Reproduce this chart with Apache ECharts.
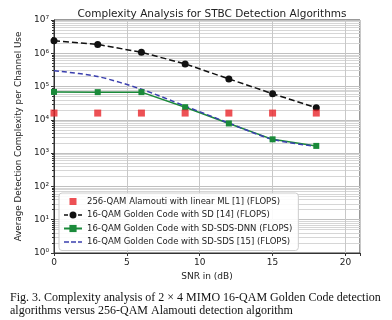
<!DOCTYPE html>
<html>
<head>
<meta charset="utf-8">
<script src="https://cdn.jsdelivr.net/npm/echarts@6/dist/echarts.min.js"></script>
<style>
  html, body { margin: 0; padding: 0; background: #fff; }
  #chart { width: 392px; height: 320px; }
</style>
</head>
<body>
<div id="chart"></div>
<script>
// SNR points (dB)
const snr = [0, 3, 6, 9, 12, 15, 18]

// complexity values
const alamoutiML = [1.6e4, 1.6e4, 1.6e4, 1.6e4, 1.6e4, 1.6e4, 1.6e4]
const goldenSD = [2.4e6, 1.85e6, 1.07e6, 4.8e5, 1.7e5, 6.1e4, 2.3e4]
const goldenDNN = [6.9e4, 6.8e4, 6.8e4, 2.4e4, 7.8e3, 2.6e3, 1.65e3]
const goldenSDS = [3.0e5, 2.0e5, 8.3e4, 2.6e4, 8.0e3, 2.6e3, 1.6e3]

const seriesNames = [
  '256-QAM Alamouti with linear ML [1] (FLOPS)',
  '16-QAM Golden Code with SD [14] (FLOPS)',
  '16-QAM Golden Code with SD-SDS-DNN (FLOPS)',
  '16-QAM Golden Code with SD-SDS [15] (FLOPS)'
]

const sup = { '0': '⁰', '1': '¹', '2': '²', '3': '³', '4': '⁴', '5': '⁵', '6': '⁶', '7': '⁷' }

const pairs = arr => snr.map((x, i) => [x, arr[i]])
const font = 'DejaVu Sans'

// legend icons: small square alone, dashed line with dot, dashed line without marker
const squareIcon = 'path://M0,0M18,9M5.5,1h7v7h-7z'
const dashDotIcon = 'path://M0,0M18,9M0,3.8h4v1.5h-4zM14,3.8h4v1.5h-4zM9,1a3.5,3.5 0 1,0 0.01,0z'
const dashIcon = 'path://M0,0M18,9M0,3.8h5v1.5h-5zM7,3.8h5v1.5h-5zM14,3.8h4v1.5h-4z'

const chart = echarts.init(document.getElementById('chart'))

chart.setOption({
  animation: false,
  title: [
    {
      text: 'Complexity Analysis for STBC Detection Algorithms',
      left: 207, top: 4, textAlign: 'center',
      textStyle: { fontFamily: font, fontSize: 10.5, fontWeight: 'normal', color: '#222' }
    },
    {
      text: 'Fig. 3. Complexity analysis of 2 × 4 MIMO 16-QAM Golden Code detection\nalgorithms versus 256-QAM Alamouti detection algorithm',
      left: 5, top: 286,
      textStyle: { fontFamily: 'Liberation Serif', fontSize: 12, fontWeight: 'normal', color: '#111', lineHeight: 13 }
    }
  ],
  grid: {
    left: 54, right: 32, top: 20, bottom: 67,
    show: true, borderColor: '#333', borderWidth: 1
  },
  legend: {
    orient: 'vertical',
    left: 59, top: 193,
    padding: [4, 6, 4, 4],
    itemGap: 4.5,
    itemWidth: 18, itemHeight: 9,
    backgroundColor: 'rgba(255,255,255,0.9)',
    borderColor: '#ccc', borderWidth: 1, borderRadius: 3,
    textStyle: { fontFamily: font, fontSize: 8.5, color: '#222' },
    data: [
      { name: seriesNames[0], icon: squareIcon },
      { name: seriesNames[1], icon: dashDotIcon },
      { name: seriesNames[2] },
      { name: seriesNames[3], icon: dashIcon }
    ]
  },
  xAxis: {
    type: 'value', min: 0, max: 21, interval: 5,
    name: 'SNR in (dB)', nameLocation: 'middle', nameGap: 17,
    nameTextStyle: { fontFamily: font, fontSize: 9, color: '#222' },
    axisLine: { lineStyle: { color: '#333' } },
    axisTick: { show: true, length: 3, lineStyle: { color: '#333' } },
    axisLabel: {
      fontFamily: font, fontSize: 9, color: '#222', margin: 5,
      formatter: v => (v % 5 === 0 && v <= 20 ? String(v) : '')
    },
    splitLine: { show: true, lineStyle: { color: '#c8c8c8', width: 1 } }
  },
  yAxis: {
    type: 'log', logBase: 10, min: 1, max: 1e7,
    name: 'Average Detection Complexity per Channel Use',
    nameLocation: 'middle', nameGap: 28,
    nameTextStyle: { fontFamily: font, fontSize: 8.8, color: '#222' },
    axisLine: { lineStyle: { color: '#333' } },
    axisTick: { show: true, length: 3, lineStyle: { color: '#333' } },
    minorTick: { show: true, splitNumber: 9, length: 2, lineStyle: { color: '#333' } },
    axisLabel: {
      fontFamily: font, fontSize: 9, color: '#222', margin: 5,
      formatter: v => '10' + sup[String(Math.round(Math.log10(v)))]
    },
    splitLine: { show: true, lineStyle: { color: '#c0c0c0', width: 1 } },
    minorSplitLine: { show: true, lineStyle: { color: '#d6d6d6', width: 1 } }
  },
  series: [
    {
      name: seriesNames[0], type: 'scatter',
      data: pairs(alamoutiML),
      symbol: 'rect', symbolSize: 7,
      itemStyle: { color: '#e8262a' }, z: 5
    },
    {
      name: seriesNames[1], type: 'line',
      data: pairs(goldenSD),
      symbol: 'circle', symbolSize: 7, showAllSymbol: true,
      lineStyle: { color: '#111', width: 1.5, type: [6, 3] },
      itemStyle: { color: '#111' }
    },
    {
      name: seriesNames[2], type: 'line',
      data: pairs(goldenDNN),
      symbol: 'rect', symbolSize: 6,
      lineStyle: { color: '#1a8a3a', width: 1.5 },
      itemStyle: { color: '#1a8a3a' }
    },
    {
      name: seriesNames[3], type: 'line',
      data: pairs(goldenSDS),
      symbol: 'none', smooth: 0.3,
      lineStyle: { color: '#3a3fae', width: 1.5, type: [5, 3] },
      itemStyle: { color: '#3a3fae' }
    }
  ]
})
</script>
</body>
</html>
